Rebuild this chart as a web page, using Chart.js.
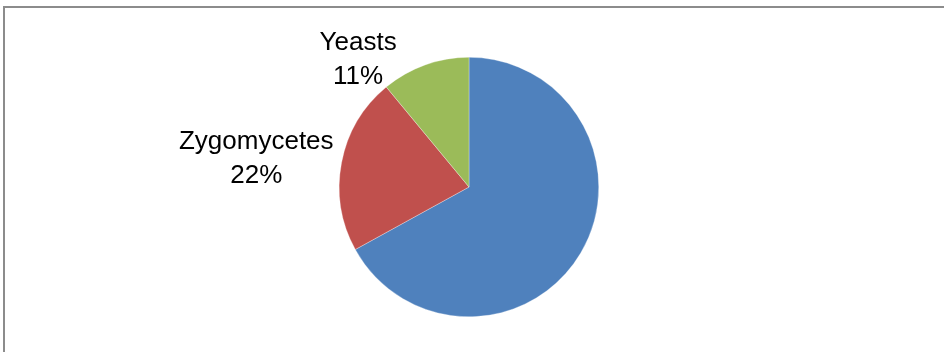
<!DOCTYPE html>
<html>
<head>
<meta charset="utf-8">
<script src="https://cdn.jsdelivr.net/npm/chart.js@4/dist/chart.umd.min.js"></script>
<style>
  html, body { margin: 0; padding: 0; background: #fff; overflow: hidden; }
  #wrap { position: relative; width: 944px; height: 352px; }
  #frame { position: absolute; left: 3px; top: 6px; width: 2000px; height: 2000px;
           border-top: 2px solid #8c8c8c; border-left: 2px solid #8c8c8c; box-sizing: border-box; pointer-events: none; }
  canvas { position: absolute; left: 0; top: 0; }
</style>
</head>
<body>
<div id="wrap">
  <canvas id="c" width="944" height="352"></canvas>
  <div id="frame"></div>
</div>
<script>
// Data
const categories = ["Molds", "Zygomycetes", "Yeasts"];
const percentages = [67, 22, 11];
const showLabel = [false, true, true];
const sliceColors = ["#4F81BD", "#C0504D", "#9BBB59"];

// Label placement tweaks (pixels, relative to computed outside position)
const labelNudge = [[0, 0], [-1, 2], [-51, 32.5]];

const fontSize = 26;
const lineH = 34;

const labelPlugin = {
  id: 'outsideLabels',
  afterDatasetsDraw(chart) {
    const ctx = chart.ctx;
    const meta = chart.getDatasetMeta(0);
    ctx.save();
    ctx.font = fontSize + 'px "Liberation Sans", Arial, sans-serif';
    ctx.fillStyle = '#000';
    ctx.textAlign = 'center';
    ctx.textBaseline = 'alphabetic';
    const capH = 0.716 * fontSize;
    meta.data.forEach((arc, i) => {
      if (!showLabel[i]) return;
      const p = arc.getProps(['x', 'y', 'startAngle', 'endAngle', 'outerRadius'], true);
      const mid = (p.startAngle + p.endAngle) / 2;
      const dx = Math.cos(mid), dy = Math.sin(mid);
      const lines = [categories[i], percentages[i] + '%'];
      const w = Math.max(...lines.map(t => ctx.measureText(t).width));
      const h = lineH * lines.length;
      const pad = 8.5;
      const ax = p.x + dx * (p.outerRadius + pad);
      const ay = p.y + dy * (p.outerRadius + pad);
      const cx = ax + dx * w / 2 + labelNudge[i][0];
      const cy = ay + dy * h / 2 + labelNudge[i][1];
      lines.forEach((t, k) => {
        const by = cy + (k - (lines.length - 1) / 2) * lineH + capH / 2;
        ctx.fillText(t, cx, by);
      });
    });
    ctx.restore();
  }
};

new Chart(document.getElementById('c'), {
  type: 'pie',
  data: {
    labels: categories,
    datasets: [{
      data: percentages,
      backgroundColor: sliceColors,
      borderColor: 'rgba(255,255,255,0.6)',
      borderWidth: 0.5
    }]
  },
  options: {
    responsive: false,
    animation: false,
    layout: { padding: { top: 57, bottom: 35, left: 0, right: 6 } },
    plugins: {
      legend: { display: false },
      tooltip: { enabled: false }
    }
  },
  plugins: [labelPlugin]
});
</script>
</body>
</html>
